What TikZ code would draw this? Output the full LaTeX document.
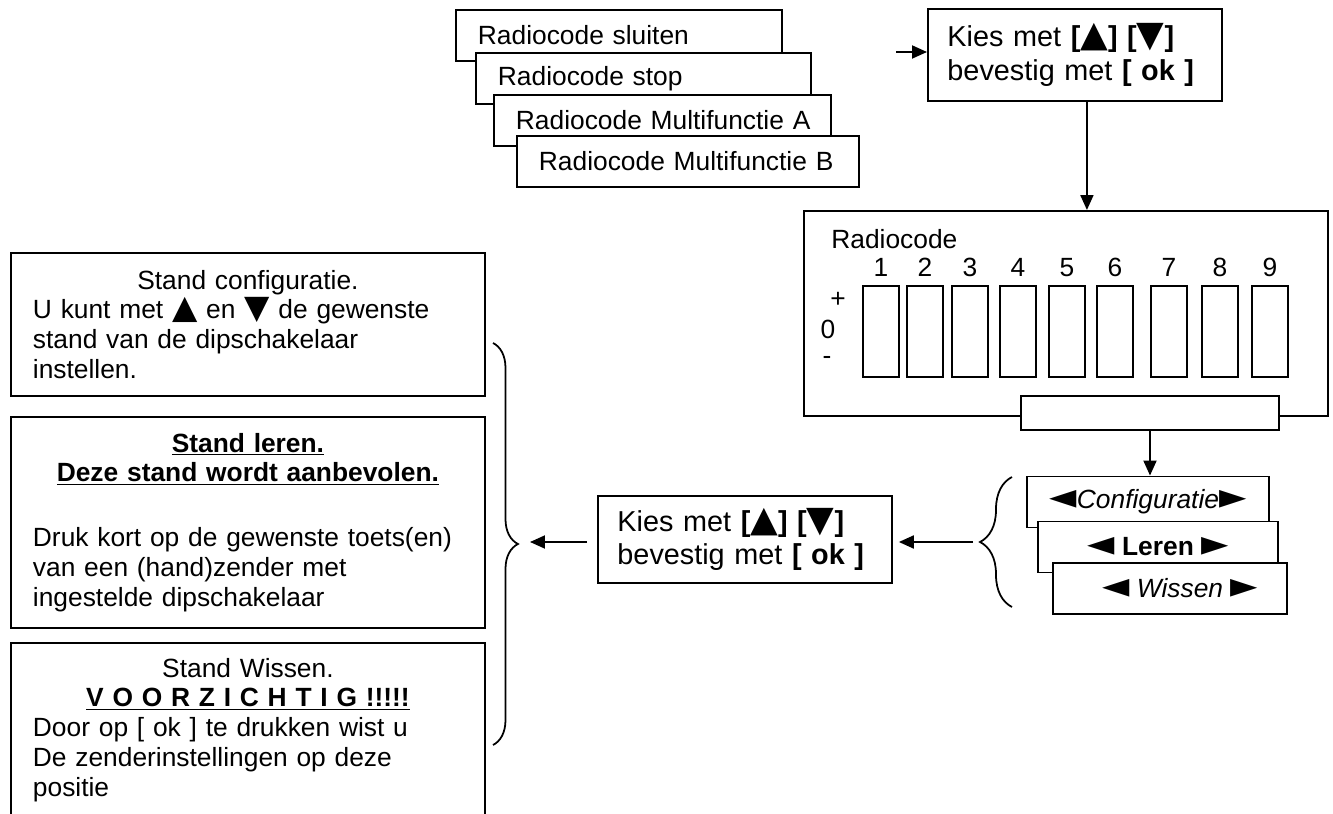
\documentclass[tikz,border=0pt]{standalone}
\usepackage{fontspec}
\setmainfont{Liberation Sans}
\newfontfamily\symfont[Scale=1.25]{DejaVu Sans}
\newfontfamily\ptrfont[Scale=1.35]{DejaVu Sans}
\usetikzlibrary{arrows.meta,positioning,decorations.pathreplacing}

\newcommand{\triup}{{\symfont ▲}}
\newcommand{\tridown}{{\symfont ▼}}
\newcommand{\trileft}{{\ptrfont ◄}}
\newcommand{\triright}{{\ptrfont ►}}

\tikzset{
  box/.style={draw, line width=1.1pt, fill=white, inner sep=0pt},
  stackbox/.style={box, anchor=north west, align=left, inner xsep=0pt,
    minimum height=1.02cm, text width=#1,
    execute at begin node={\hspace*{0.44cm}}},
  kiesbox/.style={box, anchor=north west, align=left, inner xsep=0.39cm,
    text width=5.1cm, minimum height=#1, font=\fontsize{16.4}{18.9}\selectfont},
  infobox/.style={box, anchor=north west, align=left, inner xsep=0.44cm,
    text width=8.6cm, minimum height=#1},
  menubox/.style={box, minimum height=1.02cm, minimum width=#1},
  dip/.style={draw, line width=1.1pt, inner sep=0pt, minimum width=0.72cm,
    minimum height=1.82cm},
  arr/.style={-{Triangle[length=0.3cm,width=0.26cm]}, line width=1.1pt},
  curly/.style={decorate, decoration={brace, amplitude=#1}, line width=1pt}
}

\begin{document}
\begin{tikzpicture}[x=0.02cm, y=-0.02cm, font=\fontsize{15}{17}\selectfont]
\useasboundingbox (0,0) rectangle (1333,814);

% stack of codes (top)
\node[stackbox=6.52cm] (sluiten) at (455,9) {Radiocode sluiten};
\node[stackbox=6.70cm] (stop) at (475,52) {Radiocode stop};
\node[stackbox=6.74cm] (multiA) at (493,94) {Radiocode Multifunctie A};
\node[stackbox=6.84cm] (multiB) at (516,135) {Radiocode Multifunctie B};

% first choice box
\node[kiesbox=1.84cm] (kiesA) at (927,8)
  {Kies met \textbf{[\triup] [\tridown]}\\bevestig met \textbf{[ ok ]}};
\coordinate (inA) at (896,52);
\draw[arr] (inA) -- (inA -| kiesA.west);

% radiocode panel
\node[box, anchor=north west, minimum width=10.48cm, minimum height=4.10cm] (code) at (803,210) {};
\node[anchor=west, inner sep=0pt] (codetitle) at (831,239) {Radiocode};
\node (plus) at (838,300) {+};
\node (nul) at (828,329) {0};
\node (min) at (827,360) {-};
\foreach \i/\x in {1/881,2/925,3/970,4/1018,5/1067,6/1115,7/1169,8/1220,9/1270} {
  \node[dip] (dip\i) at (\x,331.5) {};
  \node[anchor=base, inner sep=0pt] (num\i) at (\x,277) {\i};
}
\node[box, minimum width=5.16cm, minimum height=0.68cm] (knop) at (1150,413) {};
\draw[arr] ([xshift=0.24cm]kiesA.south) -- ([xshift=0.24cm]kiesA.south |- code.north);

% menu
\node[menubox=4.84cm] (conf) at (1148,502) {\trileft\textit{Configuratie}\triright};
\node[menubox=4.80cm] (leren) at (1158,547) {\trileft{} \textbf{Leren} \triright};
\node[menubox=4.68cm] (wissen) at (1170,588.5) {\hspace*{0.4cm}\trileft{} \textit{Wissen} \triright};
\draw[arr] (knop.south) -- (knop.south |- conf.north);
\draw[curly=0.64cm] (1012,607) -- (1012,477);
\coordinate (menutip) at (980,542);

% second choice box
\node[kiesbox=1.74cm] (kiesB) at (597,495)
  {Kies met \textbf{[\triup] [\tridown]}\\bevestig met \textbf{[ ok ]}};
\draw[arr, shorten <=0.14cm, shorten >=0.12cm] (menutip) -- (menutip -| kiesB.east);

% explanation boxes
\node[infobox=2.86cm] (standconf) at (10,252)
  {\hfill Stand configuratie.\hfill\null\\
   U kunt met \triup{} en \tridown{} de gewenste\\
   stand van de dipschakelaar\\
   instellen.};
\node[infobox=4.22cm] (standleren) at (10,416)
  {\hfill\textbf{\underline{Stand leren.}}\hfill\null\\
   \hfill\textbf{\underline{Deze stand wordt aanbevolen.}}\hfill\null\\[0.7cm]
   Druk kort op de gewenste toets(en)\\
   van een (hand)zender met\\
   ingestelde dipschakelaar};
\node[infobox=3.48cm] (standwissen) at (10,642)
  {\hfill Stand Wissen.\hfill\null\\
   \hfill\textbf{\underline{V O O R Z I C H T I G !!!!!}}\hfill\null\\
   Door op [ ok ] te drukken wist u\\
   De zenderinstellingen op deze\\
   positie};
\draw[curly=0.5cm] (493,343) -- (493,745);
\coordinate (infotip) at (518,542);
\draw[arr, shorten <=0.2cm, shorten >=0.24cm] (infotip -| kiesB.west) -- (infotip);

\end{tikzpicture}
\end{document}
